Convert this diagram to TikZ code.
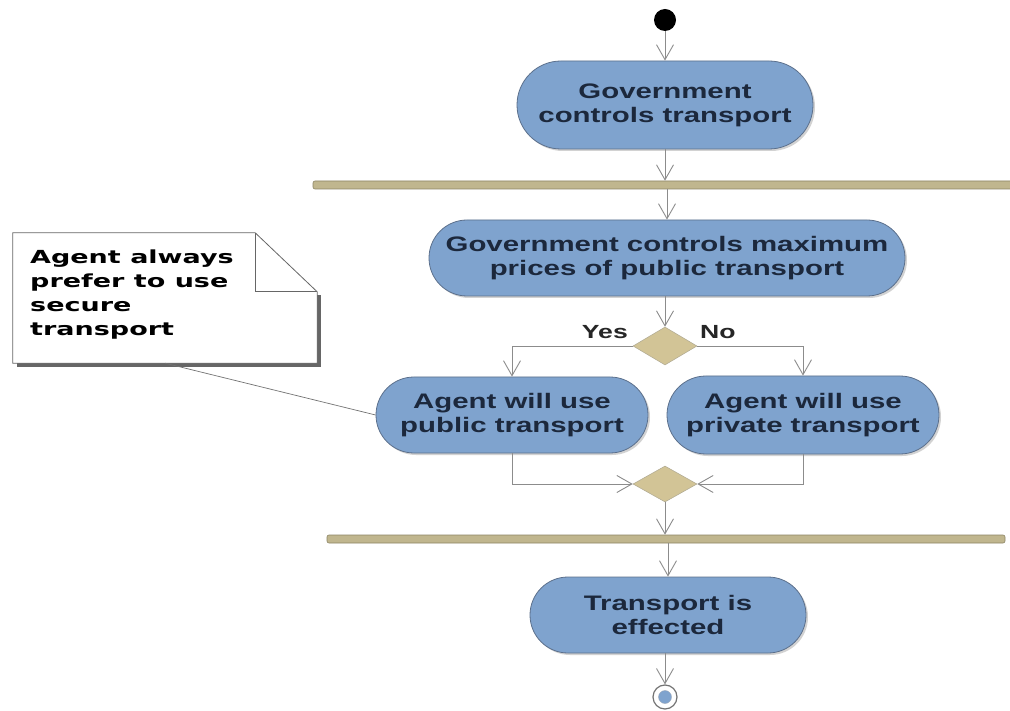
\documentclass[tikz,border=0pt]{standalone}
\usepackage{fontspec}
\newfontfamily\nodefont[FakeStretch=1.4]{Liberation Sans}
\newfontfamily\notefont[FakeStretch=1.5]{DejaVu Sans}
\usetikzlibrary{arrows.meta,shapes.geometric,shadows}
\definecolor{actfill}{RGB}{127,163,206}
\definecolor{actdraw}{RGB}{92,112,140}
\definecolor{acttext}{RGB}{28,40,60}
\definecolor{barfill}{RGB}{192,182,142}
\definecolor{bardraw}{RGB}{140,132,100}
\definecolor{diafill}{RGB}{210,196,150}
\definecolor{linegray}{RGB}{140,140,140}
\tikzset{
  action/.style={rectangle, draw=actdraw, line width=0.8pt, fill=actfill, text=acttext,
    align=center, inner sep=0pt, font=\nodefont\bfseries\fontsize{21}{24}\selectfont,
    drop shadow={shadow xshift=2pt, shadow yshift=-2pt, fill=black!35}},
  barnode/.style={rectangle, draw=bardraw, line width=0.6pt, fill=barfill, inner sep=0pt,
    rounded corners=2pt, minimum height=8pt},
  dec/.style={diamond, draw=bardraw!70, line width=0.5pt, fill=diafill, inner sep=0pt,
    minimum width=64pt, minimum height=38pt},
  arr/.style={draw=linegray, line width=0.9pt, -{Straight Barb[length=15pt,width=17pt,line width=0.9pt]}},
  lbl/.style={font=\nodefont\bfseries\fontsize{19}{22}\selectfont, text=black!85, inner sep=0pt},
  notetext/.style={font=\notefont\bfseries\fontsize{18}{24}\selectfont, align=left, inner sep=0pt, anchor=north west}
}
\begin{document}
\begin{tikzpicture}[x=1pt,y=-1pt]
\useasboundingbox (0,0) rectangle (1010,711);
\fill[white] (0,0) rectangle (1010,711);

% start
\node[circle, fill=black, minimum size=22pt, inner sep=0pt] (start) at (665,20) {};

% actions
\node[action, minimum width=296pt, minimum height=88pt, rounded corners=44pt] (n1) at (665,105) {Government\\controls transport};
\node[barnode, minimum width=699pt] (bar1) at (662.5,185) {};
\node[action, minimum width=476pt, minimum height=76pt, rounded corners=38pt] (n2) at (667,258) {Government controls maximum\\prices of public transport};
\node[dec] (d1) at (665,346) {};
\node[action, minimum width=272pt, minimum height=76pt, rounded corners=38pt] (n3) at (512,415) {Agent will use\\public transport};
\node[action, minimum width=272pt, minimum height=78pt, rounded corners=39pt] (n4) at (803,415) {Agent will use\\private transport};
\node[dec, minimum height=36pt] (d2) at (665,484) {};
\node[barnode, minimum width=678pt] (bar2) at (666,539) {};
\node[action, minimum width=276pt, minimum height=76pt, rounded corners=38pt] (n5) at (668,615) {Transport is\\effected};

% end
\node[circle, draw=black!55, line width=1.2pt, fill=white, minimum size=24pt, inner sep=0pt] (endo) at (665,697) {};
\node[circle, fill=actfill, draw=actdraw!60, line width=0.4pt, minimum size=13pt, inner sep=0pt] (endi) at (665,697) {};

% labels
\node[lbl, anchor=east] (yes) at (628,332) {Yes};
\node[lbl, anchor=west] (no) at (700,332) {No};

% note
\node[rectangle, minimum width=304pt, minimum height=130pt, inner sep=0pt] (note) at (165,298) {};
\fill[black!60] (317,295) rectangle (321,367);
\fill[black!60] (17,363) rectangle (321,367);
\filldraw[fill=white, draw=black!60, line width=0.8pt] (note.north west) -- ([xshift=-62pt]note.north east) -- ([yshift=-59pt]note.north east) -- (note.south east) -- (note.south west) -- cycle;
\draw[draw=black!60, line width=0.8pt] ([xshift=-62pt]note.north east) |- ([yshift=-59pt]note.north east);
\node[notetext] (notet) at (30,250) {Agent always\\prefer to use\\secure\\transport};

% connectors
\draw[arr] (start) -- (n1.north);
\draw[arr] (n1.south) -- (n1.south |- bar1.north);
\draw[arr] (bar1.south -| n2.north) -- (n2.north);
\draw[arr] (n2.south -| d1.north) -- (d1.north);
\draw[arr] (d1.west) -| (n3.north);
\draw[arr] (d1.east) -| (n4.north);
\draw[arr] (n3.south) |- (d2.west);
\draw[arr] (n4.south) |- (d2.east);
\draw[arr] (d2.south) -- (d2.south |- bar2.north);
\draw[arr] (bar2.south -| n5.north) -- (n5.north);
\draw[arr] (n5.south -| endo.north) -- (endo.north);
\draw[draw=black!55, line width=0.7pt] (note.south) -- (n3.west);
\end{tikzpicture}
\end{document}
